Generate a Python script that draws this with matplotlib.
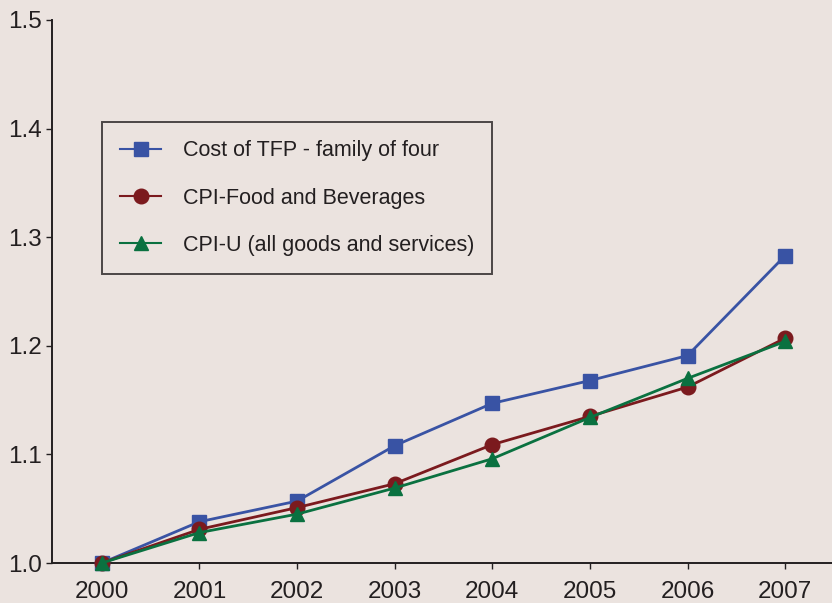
import matplotlib.pyplot as plt

years = [2000, 2001, 2002, 2003, 2004, 2005, 2006, 2007]
tfp_cost = [1.000, 1.038, 1.057, 1.108, 1.147, 1.168, 1.191, 1.283]
cpi_food = [1.000, 1.031, 1.051, 1.073, 1.109, 1.135, 1.162, 1.207]
cpi_u = [1.000, 1.028, 1.045, 1.069, 1.096, 1.134, 1.170, 1.204]

bg = '#ebe3df'
plt.rcParams['font.family'] = ['Liberation Sans', 'DejaVu Sans']

fig = plt.figure(figsize=(8.32, 6.03), dpi=100, facecolor=bg)
ax = fig.add_axes([52 / 832, 1 - 563 / 603, 1 - 52 / 832, (563 - 20) / 603])
ax.set_facecolor(bg)

ax.plot(years, tfp_cost, color='#3953a4', lw=2.0, marker='s', ms=10.5,
        label='Cost of TFP - family of four', clip_on=False, zorder=3)
ax.plot(years, cpi_food, color='#7b1a1e', lw=2.0, marker='o', ms=10.5,
        label='CPI-Food and Beverages', clip_on=False, zorder=4)
ax.plot(years, cpi_u, color='#0a7140', lw=2.0, marker='^', ms=10.5,
        label='CPI-U (all goods and services)', clip_on=False, zorder=5)

ax.set_xlim(1999.49, 2007.48)
ax.set_ylim(1.0, 1.5)
ax.set_xticks(years)
ax.set_yticks([1.0, 1.1, 1.2, 1.3, 1.4, 1.5])
ax.set_yticklabels(['1.0', '1.1', '1.2', '1.3', '1.4', '1.5'])

for s in ['top', 'right']:
    ax.spines[s].set_visible(False)
for s in ['left', 'bottom']:
    ax.spines[s].set_linewidth(1.4)
    ax.spines[s].set_color('#231f20')
ax.tick_params(axis='both', labelsize=17.5, colors='#231f20', length=4, width=1.0)
ax.tick_params(axis='x', pad=9)
ax.tick_params(axis='y', pad=3)

leg = ax.legend(loc='upper left', bbox_to_anchor=(102 / 832, 1 - 122 / 603),
                bbox_transform=fig.transFigure, fontsize=15.5, frameon=True,
                fancybox=False, edgecolor='#231f20', facecolor=bg,
                borderpad=0.85, labelspacing=1.22, handlelength=1.9,
                handletextpad=1.0, borderaxespad=0)
leg.get_frame().set_linewidth(1.4)
for t in leg.get_texts():
    t.set_color('#231f20')
for h in leg.get_lines():
    h.set_linewidth(1.5)

fig.savefig('out.png', dpi=100, facecolor=bg)
